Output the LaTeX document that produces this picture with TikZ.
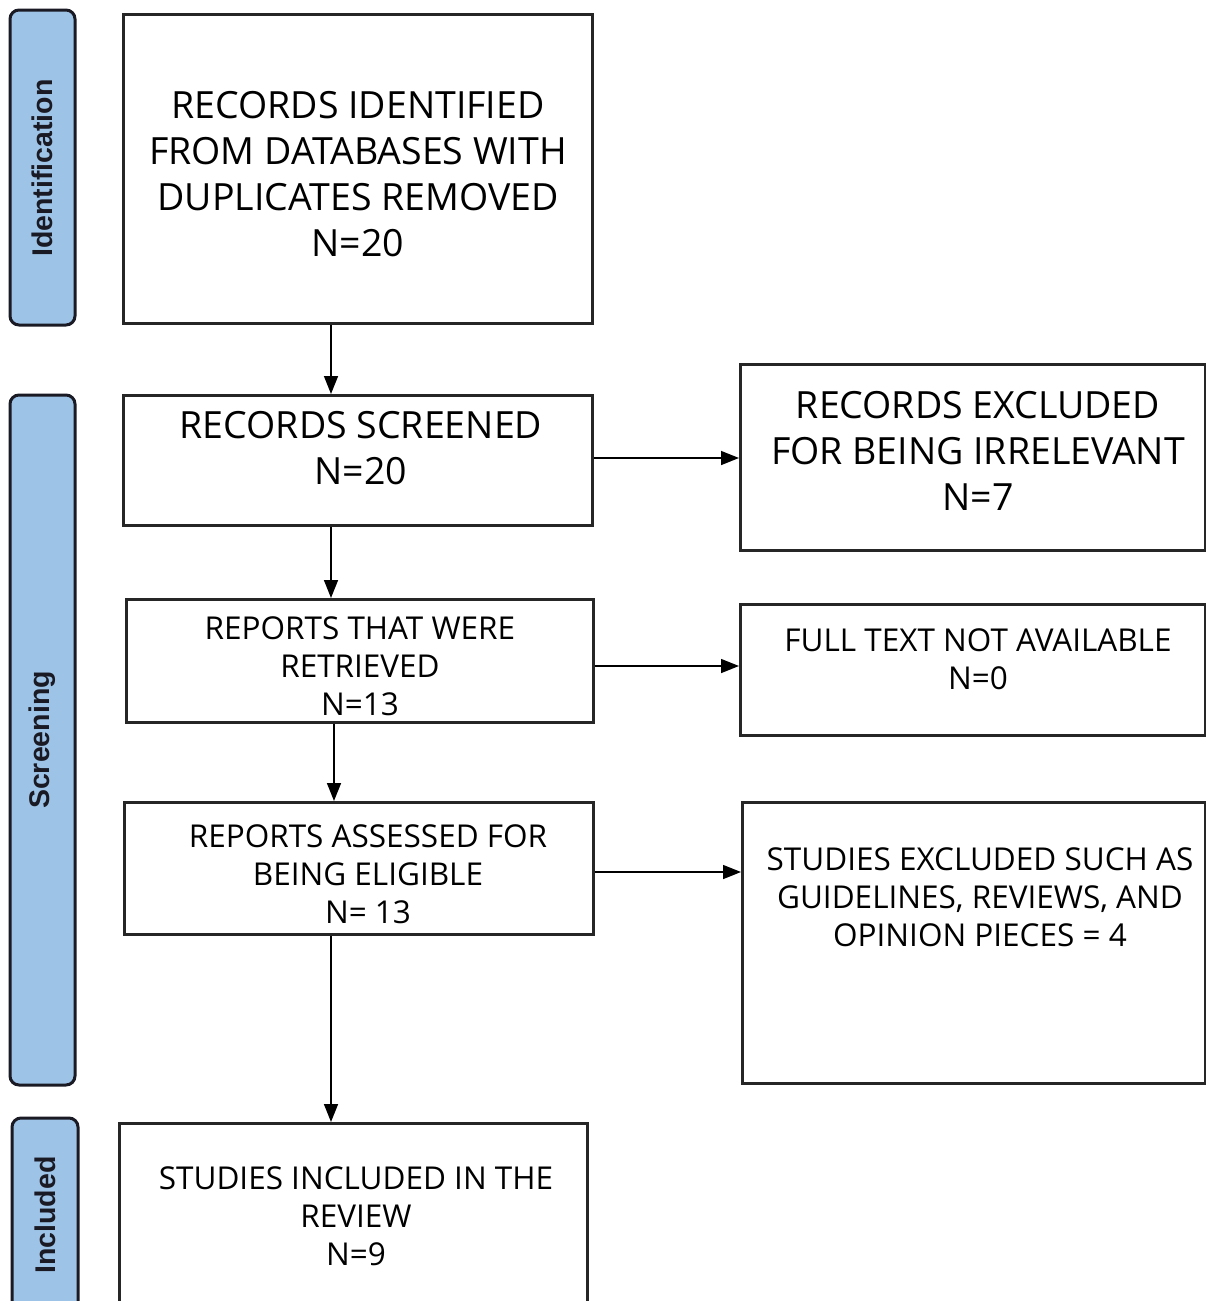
\documentclass[tikz,border=0pt]{standalone}
\usepackage{fontspec}
\setmainfont{Open Sans}
\newfontfamily\sidefont{Liberation Sans}
\usetikzlibrary{arrows.meta}
\definecolor{sideblue}{HTML}{9DC3E6}
\definecolor{sideedge}{HTML}{1A1A24}
\tikzset{
  sidebox/.style={draw=sideedge, fill=sideblue, line width=3pt, rounded corners=9pt},
  sidetext/.style={font=\sidefont\bfseries\fontsize{28.5}{32}\selectfont, rotate=90, text=sideedge},
  flowbox/.style={draw=black!85, line width=2.6pt},
  bigtext/.style={align=center, font=\fontsize{37.5}{46}\selectfont},
  smalltext/.style={align=center, font=\fontsize{31.5}{38}\selectfont},
  arr/.style={line width=1.5pt, -{Triangle[length=18pt,width=14pt]}}
}
\begin{document}
\begin{tikzpicture}[x=1pt,y=-1pt]
\useasboundingbox (0,0) rectangle (1206,1301);
\clip (0,0) rectangle (1206,1301);
% side labels
\draw[sidebox] (10,10) rectangle (75,325);
\node[sidetext] (sid) at (42,168) {Identification};
\draw[sidebox] (10,395) rectangle (75,1085);
\node[sidetext] (sscr) at (42,740) {Screening};
\draw[sidebox] (12,1118) rectangle (78,1340);
\node[sidetext] (sinc) at (45,1215) {Included};
% boxes
\node[flowbox, minimum width=469pt, minimum height=309pt, anchor=north west, inner sep=0pt] (b1) at (122,13) {};
\node[bigtext] (t1) at (358,174) {RECORDS IDENTIFIED\\FROM DATABASES WITH\\DUPLICATES REMOVED\\N=20};
\node[flowbox, minimum width=469pt, minimum height=130pt, anchor=north west, inner sep=0pt] (b2) at (122,394) {};
\node[bigtext] (t2) at (361,448) {RECORDS SCREENED\\N=20};
\node[flowbox, minimum width=467pt, minimum height=123pt, anchor=north west, inner sep=0pt] (b3) at (125,598) {};
\node[smalltext] (t3) at (360,666) {REPORTS THAT WERE\\RETRIEVED\\N=13};
\node[flowbox, minimum width=469pt, minimum height=132pt, anchor=north west, inner sep=0pt] (b4) at (123,801) {};
\node[smalltext] (t4) at (368,874) {REPORTS ASSESSED FOR\\BEING ELIGIBLE\\N= 13};
\node[flowbox, minimum width=468pt, minimum height=220pt, anchor=north west, inner sep=0pt] (b5) at (118,1122) {};
\node[smalltext] (t5) at (356,1216) {STUDIES INCLUDED IN THE\\REVIEW\\N=9};
\node[flowbox, minimum width=465pt, minimum height=186pt, anchor=north west, inner sep=0pt] (r1) at (739,363) {};
\node[bigtext] (u1) at (978,451) {RECORDS EXCLUDED\\FOR BEING IRRELEVANT\\N=7};
\node[flowbox, minimum width=465pt, minimum height=131pt, anchor=north west, inner sep=0pt] (r2) at (739,603) {};
\node[smalltext] (u2) at (978,659) {FULL TEXT NOT AVAILABLE\\N=0};
\node[flowbox, minimum width=463pt, minimum height=281pt, anchor=north west, inner sep=0pt] (r3) at (741,801) {};
\node[smalltext] (u3) at (980,897) {STUDIES EXCLUDED SUCH AS\\GUIDELINES, REVIEWS, AND\\OPINION PIECES = 4};
% connectors
\coordinate (xa) at (331,0);
\coordinate (xb) at (334,0);
\coordinate (ya) at (0,458);
\coordinate (yb) at (0,666);
\coordinate (yc) at (0,872);
\draw[arr] (b1.south -| xa) -- (b2.north -| xa);
\draw[arr] (b2.south -| xa) -- (b3.north -| xa);
\draw[arr] (b3.south -| xb) -- (b4.north -| xb);
\draw[arr] (b4.south -| xa) -- (b5.north -| xa);
\draw[arr] (b2.east |- ya) -- (r1.west |- ya);
\draw[arr] (b3.east |- yb) -- (r2.west |- yb);
\draw[arr] (b4.east |- yc) -- (r3.west |- yc);
\end{tikzpicture}
\end{document}
